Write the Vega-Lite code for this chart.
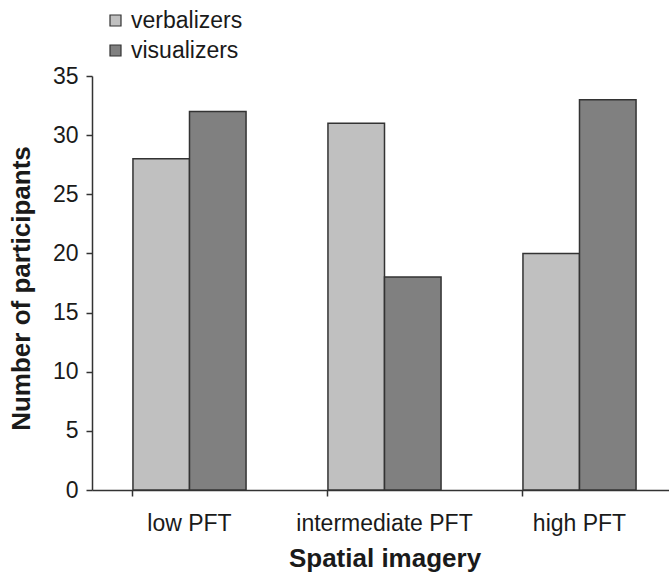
{
  "$schema": "https://vega.github.io/schema/vega-lite/v6.json",
  "autosize": {"type": "none"},
  "padding": {"left": 92, "top": 76, "right": 0, "bottom": 82},
  "width": 585,
  "height": 414,
  "background": "white",
  "config": {
    "view": {"stroke": null},
    "font": "Liberation Sans",
    "axis": {"grid": false, "domainColor": "#333", "domainWidth": 1.5, "tickColor": "#333", "tickWidth": 1.5, "labelColor": "#1a1a1a", "titleColor": "#1a1a1a", "labelFont": "Liberation Sans", "titleFont": "Liberation Sans"}
  },
  "data": {
    "values": [
      {"pft": "low PFT", "group": "verbalizers", "n": 28},
      {"pft": "low PFT", "group": "visualizers", "n": 32},
      {"pft": "intermediate PFT", "group": "verbalizers", "n": 31},
      {"pft": "intermediate PFT", "group": "visualizers", "n": 18},
      {"pft": "high PFT", "group": "verbalizers", "n": 20},
      {"pft": "high PFT", "group": "visualizers", "n": 33}
    ]
  },
  "mark": {"type": "bar", "stroke": "#333", "strokeWidth": 1.5},
  "encoding": {
    "x": {
      "field": "pft", "type": "nominal",
      "sort": ["low PFT", "intermediate PFT", "high PFT"],
      "scale": {"paddingInner": 0.42, "paddingOuter": 0.21},
      "axis": {
        "title": "Spatial imagery", "labelAngle": 0, "labelFontSize": 23,
        "labelBaseline": "alphabetic", "tickSize": 6, "labelPadding": 34,
        "bandPosition": 0, "titleFontSize": 26, "titleFontWeight": "bold",
        "titleBaseline": "alphabetic", "titleY": 76
      }
    },
    "xOffset": {"field": "group", "type": "nominal", "scale": {"paddingInner": 0, "paddingOuter": 0}},
    "y": {
      "field": "n", "type": "quantitative",
      "scale": {"domain": [0, 35], "nice": false},
      "axis": {
        "title": "Number of participants", "values": [0, 5, 10, 15, 20, 25, 30, 35],
        "labelFontSize": 23, "tickSize": 6, "labelPadding": 8,
        "titleFontSize": 26, "titleFontWeight": "bold", "titleBaseline": "alphabetic",
        "titleX": -63, "titleY": 212
      }
    },
    "color": {
      "field": "group", "type": "nominal",
      "scale": {"domain": ["verbalizers", "visualizers"], "range": ["#c0c0c0", "#808080"]},
      "legend": {
        "title": null, "orient": "none", "legendX": 12, "legendY": -67,
        "padding": 0, "symbolType": "square", "symbolSize": 121,
        "symbolStrokeColor": "#333", "symbolStrokeWidth": 1.2, "symbolFillOpacity": 1,
        "labelFontSize": 23, "labelColor": "#1a1a1a", "labelOffset": 4, "rowPadding": 6
      }
    }
  }
}
